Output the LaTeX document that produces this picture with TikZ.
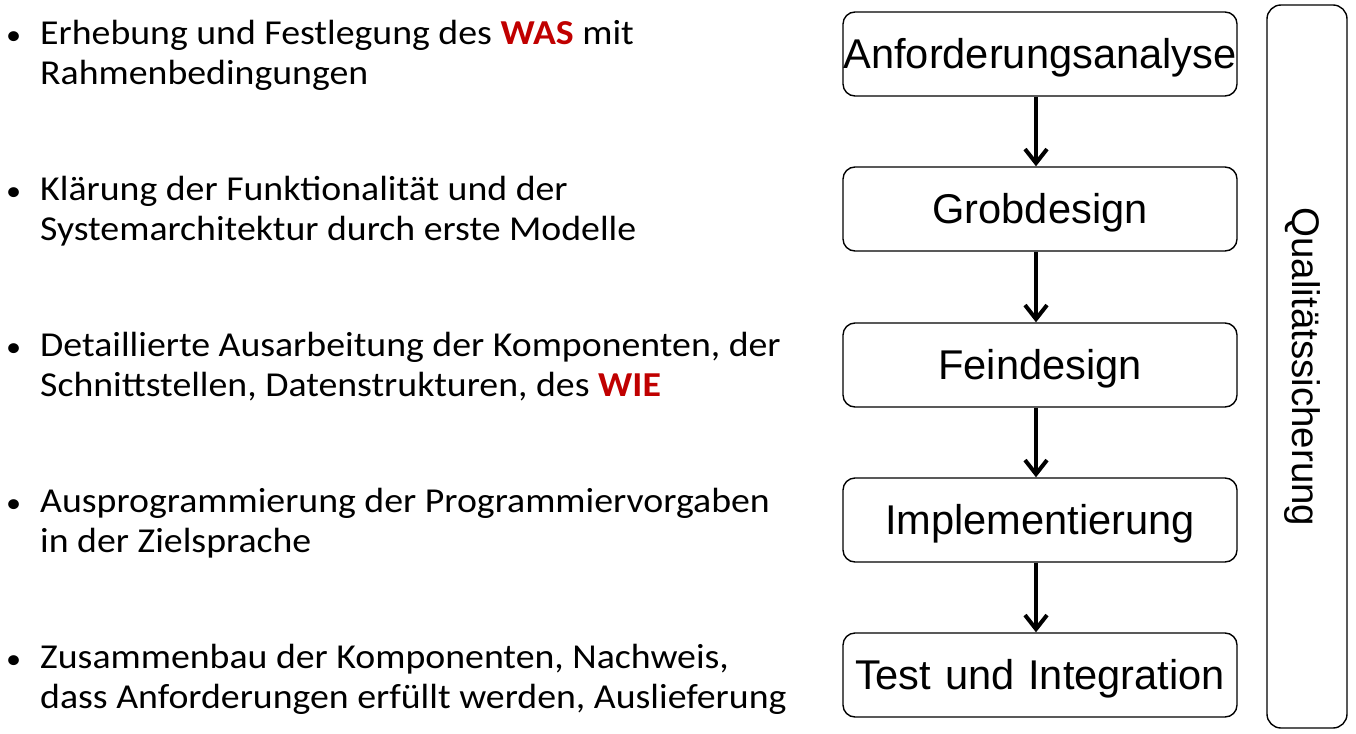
\documentclass[tikz,border=0pt]{standalone}
\usepackage{fontspec}
\setmainfont{Carlito}[FakeStretch=1.08]
\newfontfamily\boxfont{Liberation Sans}
\usetikzlibrary{arrows.meta}
\definecolor{wasred}{RGB}{192,0,0}
\tikzset{
  item/.style={anchor=north west, align=left, inner sep=0pt, font=\fontsize{35}{40}\selectfont},
  phase/.style={draw, line width=1.4pt, rounded corners=12pt, minimum width=394pt, minimum height=84pt, inner sep=0pt, text width=394pt, align=center, text height=29.7pt, text depth=0pt, font=\boxfont\fontsize{41.6}{46}\selectfont},
  flow/.style={line width=4pt, -{Straight Barb[length=14pt,width=22pt,line width=4pt]}},
  qsbox/.style={draw, line width=1.4pt, rounded corners=14pt, minimum width=80pt, minimum height=723pt, inner sep=0pt},
}
\newcommand{\bul}{\llap{\raisebox{0pt}{\fontsize{28}{28}\selectfont•}\hspace{19pt}}}
\newcommand{\hl}[1]{\textbf{\color{wasred}#1}}
\begin{document}
\begin{tikzpicture}[x=1pt,y=-1pt]
\useasboundingbox (0,0) rectangle (1356,733);
% left descriptions
\node[item] (t1) at (40,20) {\bul Erhebung und Festlegung des \hl{WAS} mit\\Rahmenbedingungen};
\node[item] (t2) at (40,176) {\bul Klärung der Funktionalität und der\\Systemarchitektur durch erste Modelle};
\node[item] (t3) at (40,332) {\bul Detaillierte Ausarbeitung der Komponenten, der\\Schnittstellen, Datenstrukturen, des \hl{WIE}};
\node[item] (t4) at (40,488) {\bul Ausprogrammierung der Programmiervorgaben\\in der Zielsprache};
\node[item] (t5) at (40,644) {\bul Zusammenbau der Komponenten, Nachweis,\\dass Anforderungen erfüllt werden, Auslieferung};
% phases
\node[phase] (p1) at (1040,54) {Anforderungsanalyse};
\node[phase] (p2) at (1040,209) {Grobdesign};
\node[phase] (p3) at (1040,365) {Feindesign};
\node[phase] (p4) at (1040,520) {Implementierung};
\node[phase] (p5) at (1040,675) {Test und Integration};
\draw[flow] (p1.south -| 1036,0) -- (p2.north -| 1036,0);
\draw[flow] (p2.south -| 1036,0) -- (p3.north -| 1036,0);
\draw[flow] (p3.south -| 1036,0) -- (p4.north -| 1036,0);
\draw[flow] (p4.south -| 1036,0) -- (p5.north -| 1036,0);
% quality assurance
\node[qsbox] (qs) at (1307,366.5) {};
\node[rotate=-90, font=\boxfont\fontsize{38.5}{40}\selectfont, inner sep=0pt] (qst) at (1302,367) {Qualitätssicherung};
\end{tikzpicture}
\end{document}
